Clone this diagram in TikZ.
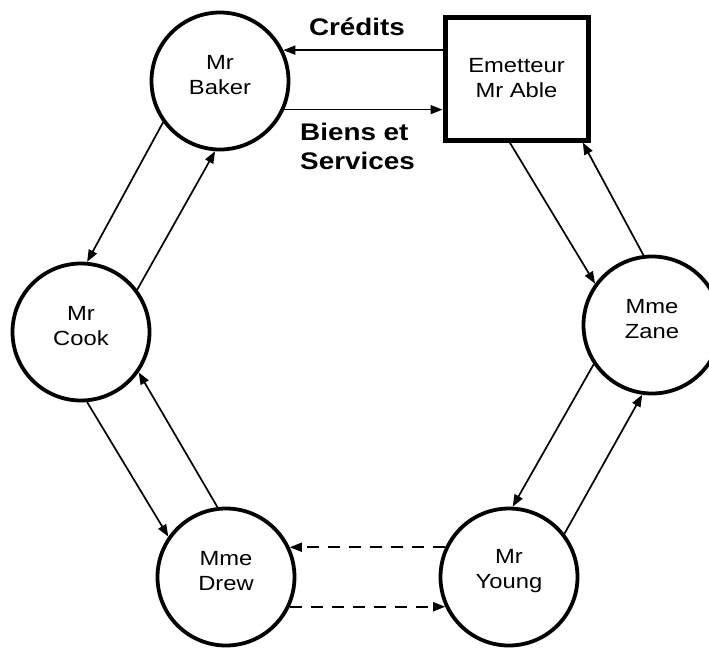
\documentclass[tikz,border=0pt]{standalone}
\usepackage{fontspec}
\setmainfont{Liberation Sans}[FakeStretch=1.16]
\usetikzlibrary{arrows.meta}

\begin{document}
\begin{tikzpicture}[x=1pt,y=-1pt,
  person/.style={circle, draw, line width=3.8pt, minimum size=137pt, inner sep=0pt},
  who/.style={align=center, font=\fontsize{20.5}{25}\selectfont, yshift=6pt},
  issuer/.style={rectangle, draw, line width=5pt, minimum width=143pt,
    minimum height=123pt, align=center, font=\fontsize{20.5}{25}\selectfont},
  flowlabel/.style={font=\fontsize{24}{29}\selectfont\bfseries, inner sep=0pt},
  flow/.style={-{Triangle[length=12pt,width=9pt]}, line width=1.7pt},
  pending/.style={flow, dash pattern=on 12pt off 9pt}]
\useasboundingbox (0,0) rectangle (709,648);
\clip (0,0) rectangle (709,648);

% participants
\node[issuer] (able) at (516.5,78.5) {Emetteur\\Mr Able};
\node[person, label={[who]center:{Mr\\Baker}}] (baker) at (220,81) {};
\node[person, label={[who]center:{Mr\\Cook}}]  (cook)  at (81,332) {};
\node[person, label={[who]center:{Mme\\Drew}}] (drew)  at (226,577) {};
\node[person, label={[who]center:{Mr\\Young}}] (young) at (509,577) {};
\node[person, label={[who]center:{Mme\\Zane}}] (zane)  at (652,325) {};

% flow labels (the base anchor of the two-line label sits on its last line)
\node[flowlabel, anchor=base] (credits) at (357,35) {Crédits};
\node[flowlabel, anchor=base west, align=left] (goods) at (300,169) {Biens et\\Services};

% issuer <-> Baker
\draw[flow] (able.west |- baker.26) -- (baker.26);
\draw[flow] (baker.-24) -- (able.west |- baker.-24);

% around the ring
\draw[flow] (baker.216) -- (cook.85);
\draw[flow] (cook.37) -- (baker.266);
\draw[flow] (cook.275) -- (drew.145);
\draw[flow] (drew.97) -- (cook.325);
\draw[pending] (young.155) -- (drew.25);
\draw[pending] (drew.-25) -- (young.205);
\draw[flow] (zane.214) -- (young.87);
\draw[flow] (young.38) -- (zane.262);
\draw[flow] (able.264) -- (zane.144);
\draw[flow] (zane.97) -- (able.316);
\end{tikzpicture}
\end{document}
